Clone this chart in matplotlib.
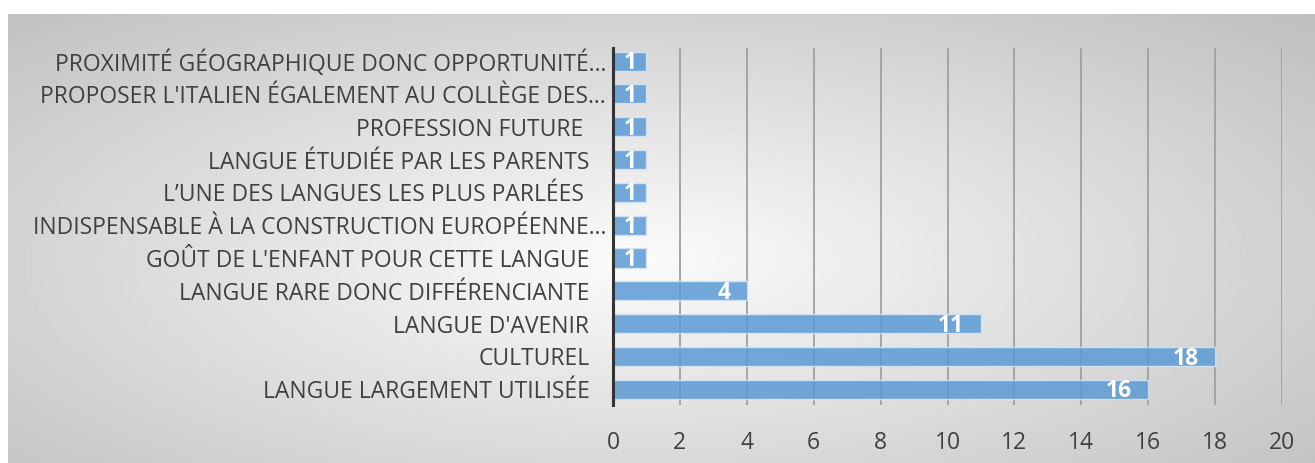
import numpy as np
import matplotlib.pyplot as plt

# categories from bottom to top
categories = [
    "LANGUE LARGEMENT UTILISÉE",
    "CULTUREL",
    "LANGUE D'AVENIR",
    "LANGUE RARE DONC DIFFÉRENCIANTE",
    "GOÛT DE L'ENFANT POUR CETTE LANGUE",
    "INDISPENSABLE À LA CONSTRUCTION EUROPÉENNE…",
    "L’UNE DES LANGUES LES PLUS PARLÉES ",
    "LANGUE ÉTUDIÉE PAR LES PARENTS",
    "PROFESSION FUTURE ",
    "PROPOSER L'ITALIEN ÉGALEMENT AU COLLÈGE DES…",
    "PROXIMITÉ GÉOGRAPHIQUE DONC OPPORTUNITÉ…",
]
counts = [16, 18, 11, 4, 1, 1, 1, 1, 1, 1, 1]
x_ticks = [0, 2, 4, 6, 8, 10, 12, 14, 16, 18, 20]

plt.rcParams['font.family'] = ['Open Sans', 'DejaVu Sans']

fig = plt.figure(figsize=(13.15, 4.63), dpi=100)

# radial gray background
bg = fig.add_axes([8 / 1315, 0, 1 - 8 / 1315, 449 / 463], zorder=0)
yy, xx = np.mgrid[0:1:300j, 0:1:800j]
r = np.sqrt(((xx - 0.48) / 0.55) ** 2 + ((yy - 0.55) / 0.6) ** 2)
img = np.clip(0.985 - 0.18 * r, 0, 1)
bg.imshow(img, cmap='gray', vmin=0, vmax=1, aspect='auto', extent=[0, 1, 0, 1])
bg.axis('off')

ax = fig.add_axes([613 / 1315, 58 / 463, (1282 - 613) / 1315, (415 - 58) / 463], zorder=1)
ax.patch.set_alpha(0)

y = np.arange(len(categories))
ax.barh(y, counts, height=0.58, color='#5b9bd5', alpha=0.85,
        edgecolor='#d6e6f5', linewidth=1, zorder=3)

for yi, v in zip(y, counts):
    ax.annotate(str(v), (v, yi), xytext=(-12 if v > 1 else -7, -1.5),
                textcoords='offset points', ha='right', va='center',
                color='white', fontsize=16.5, fontweight='bold', zorder=4)

ax.set_xlim(0, 20)
ax.set_ylim(-0.48, 10.4)
ax.set_xticks(x_ticks)
ax.set_yticks(y, categories)
ax.grid(axis='x', color='#a0a0a0', linewidth=1.3, zorder=1)
ax.tick_params(axis='x', length=0, pad=19, labelsize=16.5, labelcolor='#404040')
ax.tick_params(axis='y', length=0, labelsize=16.5, labelcolor='#404040')
for tick, lab in zip(ax.yaxis.get_major_ticks(), categories):
    tick.set_pad(5 if lab.endswith('…') else 17)

for s in ['top', 'right', 'bottom']:
    ax.spines[s].set_visible(False)
ax.spines['left'].set_color('#333333')
ax.spines['left'].set_linewidth(2.2)
ax.spines['left'].set_zorder(5)

fig.savefig('out.png', dpi=100)
